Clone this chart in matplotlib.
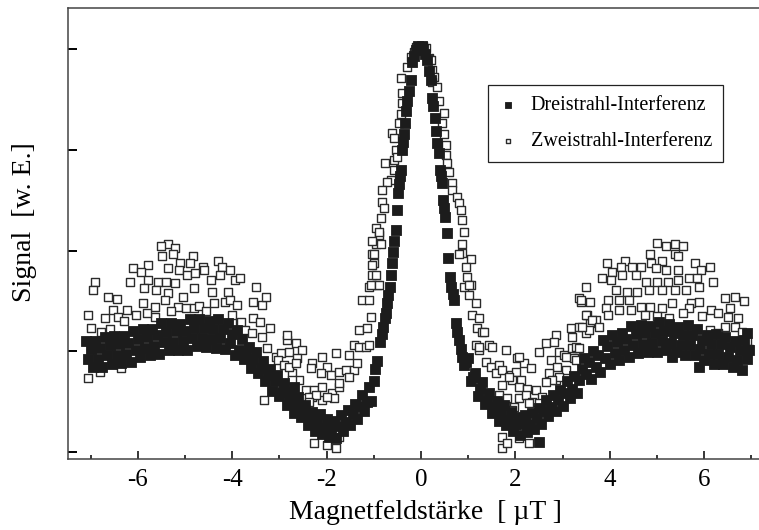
import matplotlib
matplotlib.use("Agg")
import matplotlib.pyplot as plt
from matplotlib.ticker import MultipleLocator, FixedLocator

# ---- data (x in uT, signal in arb. units) ----

# Dreistrahl-Interferenz (filled squares), left side band
drei_left_x = [-7.10, -7.05, -7.00, -6.95, -6.90, -6.85, -6.80, -6.75, -6.70, -6.65,
               -6.60, -6.55, -6.50, -6.45, -6.40, -6.35, -6.30, -6.25, -6.20, -6.15,
               -6.10, -6.05, -6.00, -5.95, -5.90, -5.85, -5.80, -5.75, -5.70, -5.65,
               -5.60, -5.55, -5.50, -5.45, -5.40, -5.35, -5.30, -5.25, -5.20, -5.15,
               -5.10, -5.05, -5.00, -4.95, -4.90, -4.85, -4.80, -4.75, -4.70, -4.65,
               -4.60, -4.55, -4.50, -4.45, -4.40, -4.35, -4.30, -4.25, -4.20, -4.15,
               -4.10, -4.05, -4.00, -3.95, -3.90, -3.85, -3.80, -3.75, -3.70, -3.65,
               -3.60, -3.55, -3.50, -3.45, -3.40, -3.35, -3.30, -3.25, -3.20, -3.15,
               -3.10, -3.05, -3.00, -2.95, -2.90, -2.85, -2.80, -2.75, -2.70, -2.65,
               -2.60, -2.55, -2.50, -2.45, -2.40, -2.35, -2.30, -2.25, -2.20, -2.15,
               -2.10, -2.05, -2.00, -1.95, -1.90, -1.85, -1.80, -1.75, -1.70, -1.65,
               -1.60, -1.55, -1.50, -1.45, -1.40, -1.35, -1.30, -1.25, -1.20, -1.15,
               -1.10, -1.05, -1.00, -0.97, -0.94, -2.69]
drei_left_y = [1.10, 0.92, 1.02, 0.84, 1.10, 0.92, 1.03, 0.84, 1.14, 0.96,
               1.06, 0.87, 1.15, 0.96, 1.07, 0.88, 1.15, 0.97, 1.08, 0.89,
               1.20, 1.01, 1.12, 0.94, 1.22, 1.03, 1.14, 0.96, 1.22, 1.05,
               1.16, 0.97, 1.28, 1.09, 1.19, 1.01, 1.28, 1.09, 1.20, 1.01,
               1.27, 1.10, 1.20, 1.01, 1.32, 1.13, 1.23, 1.05, 1.32, 1.13,
               1.23, 1.04, 1.30, 1.12, 1.22, 1.03, 1.32, 1.13, 1.22, 1.02,
               1.28, 1.08, 1.17, 0.96, 1.21, 1.01, 1.12, 0.92, 0.98, 1.04,
               0.83, 0.92, 0.99, 0.78, 0.83, 0.90, 0.70, 0.76, 0.82, 0.61,
               0.70, 0.76, 0.56, 0.60, 0.68, 0.47, 0.54, 0.60, 0.39, 0.48,
               0.55, 0.35, 0.39, 0.47, 0.27, 0.34, 0.40, 0.21, 0.30, 0.38,
               0.18, 0.24, 0.33, 0.15, 0.23, 0.31, 0.14, 0.26, 0.37, 0.21,
               0.30, 0.42, 0.27, 0.38, 0.48, 0.33, 0.46, 0.57, 0.41, 0.50,
               0.64, 0.51, 0.70, 0.82, 0.90, 0.64]

# Dreistrahl-Interferenz, central peak
drei_peak_x = [-0.87, -0.83, -0.80, -0.76, -0.74, -0.72, -0.69, -0.66, -0.63, -0.61,
               -0.59, -0.57, -0.53, -0.51, -0.49, -0.47, -0.44, -0.42, -0.40, -0.38,
               -0.36, -0.34, -0.32, -0.29, -0.25, -0.21, -0.19, -0.15, -0.11, -0.07,
               -0.03, 0.01, 0.05, 0.09, 0.13, 0.17, 0.21, 0.23, 0.26, 0.30,
               0.32, 0.34, 0.38, 0.40, 0.42, 0.44, 0.47, 0.49, 0.51, 0.55,
               0.57, 0.61, 0.63, 0.67, 0.70, 0.74, 0.77, 0.80, 0.84, 0.87,
               0.91]
drei_peak_y = [1.09, 1.17, 1.24, 1.33, 1.38, 1.48, 1.56, 1.64, 1.76, 1.88,
               1.99, 2.10, 2.20, 2.40, 2.57, 2.66, 2.74, 2.80, 3.00, 3.08,
               3.16, 3.27, 3.39, 3.49, 3.59, 3.69, 3.87, 3.93, 3.99, 4.03,
               4.02, 4.03, 4.00, 3.95, 3.89, 3.78, 3.69, 3.52, 3.44, 3.32,
               3.19, 3.07, 2.97, 2.80, 2.74, 2.67, 2.50, 2.42, 2.33, 2.17,
               1.93, 1.74, 1.64, 1.57, 1.51, 1.28, 1.19, 1.11, 1.02, 0.94,
               0.86]

# Dreistrahl-Interferenz, right side band
drei_right_x = [0.95, 1.00, 1.05, 1.10, 1.15, 1.20, 1.25, 1.30, 1.35, 1.40,
                1.45, 1.50, 1.55, 1.60, 1.65, 1.70, 1.75, 1.80, 1.85, 1.90,
                1.95, 2.00, 2.05, 2.10, 2.15, 2.20, 2.25, 2.30, 2.35, 2.40,
                2.45, 2.50, 2.55, 2.60, 2.65, 2.70, 2.75, 2.80, 2.85, 2.90,
                2.95, 3.00, 3.05, 3.10, 3.15, 3.20, 3.25, 3.30, 3.35, 3.40,
                3.45, 3.50, 3.55, 3.60, 3.65, 3.70, 3.75, 3.80, 3.85, 3.90,
                3.95, 4.00, 4.05, 4.10, 4.15, 4.20, 4.25, 4.30, 4.35, 4.40,
                4.45, 4.50, 4.55, 4.60, 4.65, 4.70, 4.75, 4.80, 4.85, 4.90,
                4.95, 5.00, 5.05, 5.10, 5.15, 5.20, 5.25, 5.30, 5.35, 5.40,
                5.45, 5.50, 5.55, 5.60, 5.65, 5.70, 5.75, 5.80, 5.85, 5.90,
                5.95, 6.00, 6.05, 6.10, 6.15, 6.20, 6.25, 6.30, 6.35, 6.40,
                6.45, 6.50, 6.55, 6.60, 6.65, 6.70, 6.75, 6.80, 6.85, 6.90,
                6.95, 5.88, 5.31, 2.49, 6.90]
drei_right_y = [0.89, 0.93, 0.70, 0.74, 0.78, 0.56, 0.63, 0.69, 0.48, 0.52,
                0.59, 0.39, 0.45, 0.51, 0.31, 0.40, 0.47, 0.27, 0.32, 0.40,
                0.21, 0.28, 0.35, 0.17, 0.28, 0.37, 0.20, 0.28, 0.39, 0.23,
                0.34, 0.44, 0.28, 0.41, 0.52, 0.36, 0.45, 0.57, 0.41, 0.52,
                0.62, 0.46, 0.59, 0.70, 0.54, 0.63, 0.75, 0.59, 0.71, 0.82,
                0.93, 0.77, 0.89, 0.72, 1.00, 0.84, 0.96, 0.79, 1.11, 0.93,
                1.05, 0.87, 1.16, 0.98, 1.09, 0.91, 1.18, 1.01, 1.12, 0.94,
                1.25, 1.06, 1.17, 0.98, 1.26, 1.07, 1.18, 0.99, 1.25, 1.08,
                1.18, 0.99, 1.29, 1.10, 1.20, 1.01, 1.27, 1.08, 1.18, 0.99,
                1.24, 1.06, 1.16, 0.96, 1.26, 1.06, 1.16, 0.96, 1.22, 1.02,
                1.11, 0.91, 1.16, 0.97, 1.07, 0.87, 1.17, 0.97, 1.07, 0.87,
                1.14, 0.94, 1.04, 0.84, 1.10, 0.91, 1.01, 0.81, 1.11, 0.92,
                1.01, 0.84, 0.94, 0.10, 1.18]

# Zweistrahl-Interferenz (open squares)
zwei_x = [
    # left outer hump
    -5.37, -5.52, -5.22, -5.48, -5.26, -4.84, -6.11, -5.79, -5.94, -5.10,
    -4.90, -4.31, -4.21, -4.63, -5.37, -5.12, -6.91, -6.96, -6.17, -5.79,
    -5.58, -5.41, -5.22, -4.95, -4.78, -4.59, -4.46, -4.25, -4.04, -3.95,
    -3.83, -5.86, -5.62, -5.37, -5.05, -4.80, -4.42, -4.10, -6.64, -6.45,
    -5.90, -5.64, -5.43, -5.16, -4.99, -4.80, -4.38, -4.16, -4.04, -3.89,
    -7.06, -6.53, -6.70, -6.43, -6.22, -5.64, -7.00, -6.79, -4.00, -3.83,
    -7.06, -6.81, -6.36, -6.30, -6.05, -5.80, -5.30, -4.70, -4.55, -6.60,
    # left valley
    -3.81, -3.74, -3.57, -3.49, -3.57, -3.38, -3.28, -3.42, -3.59, -3.36,
    -3.21, -3.26, -3.07, -2.85, -2.83, -2.64, -2.52, -2.96, -2.79, -2.62,
    -3.04, -2.90, -2.73, -2.79, -2.64, -2.58, -2.43, -2.26, -2.09, -2.30,
    -2.09, -1.88, -1.73, -1.80, -2.09, -2.30, -2.33, -1.99, -2.11, -1.90,
    -1.73, -1.59, -1.42, -1.35, -1.52, -1.42, -1.31, -1.16, -1.10, -2.73,
    -2.37, -2.22, -1.73, -1.84, -1.99, -2.37, -3.32, -2.26, -1.99, -1.80,
    -1.73, -1.99, -1.52, -1.31, -1.14, -1.25, -1.10, -1.06, -1.10, -0.93,
    -1.04, -0.99, -1.04, -0.95, -0.89,
    # central peak
    -0.30, -0.42, -0.40, -0.40, -0.42, -0.47, -0.61, -0.57, -0.53, -0.57,
    -0.51, -0.76, -0.57, -0.63, -0.72, -0.82, -0.82, -0.78, -0.85, -0.95,
    -0.89, -1.04, -0.85, -0.99, -1.04, -0.95, -1.06, -0.89, -0.11, -0.22,
    -0.15, 0.04, 0.11, 0.17, 0.21, 0.23, 0.27, 0.23, 0.34, 0.38,
    0.49, 0.44, 0.49, 0.53, 0.53, 0.55, 0.59, 0.66, 0.66, 0.76,
    0.80, 0.85, 0.87, 0.91, 0.87, 0.87, 0.80, 1.06, 0.95, 0.97,
    1.06,
    # right valley
    0.91, 1.01, 1.01, 1.16, 1.08, 1.23, 1.18, 1.29, 1.16, 1.23,
    1.44, 1.50, 1.37, 1.48, 1.65, 1.59, 1.80, 1.71, 1.90, 2.01,
    2.03, 2.18, 2.33, 2.11, 1.92, 1.71, 2.07, 2.24, 2.43, 1.65,
    1.82, 2.07, 2.22, 2.35, 2.56, 2.54, 1.97, 1.71, 1.71, 1.82,
    2.07, 2.28, 2.49, 2.64, 2.85, 2.81, 2.75, 2.92, 3.02, 2.88,
    2.71, 2.85, 3.23, 3.19, 3.30, 3.17, 3.34, 3.19, 3.49, 3.59,
    3.51, 3.70, 3.38, 3.34, 3.28, 1.33, 1.23, 1.86, 2.07, 2.28,
    2.49, 1.92, 3.07, 2.92, 2.77, 2.64, 3.07, 3.28,
    # right outer hump
    4.99, 5.20, 5.39, 5.56, 5.39, 4.86, 5.10, 5.45, 4.33, 3.93,
    4.23, 4.46, 4.67, 4.88, 4.97, 5.18, 5.45, 5.81, 5.94, 6.13,
    6.19, 4.04, 3.83, 4.02, 4.25, 4.55, 4.76, 4.99, 5.24, 5.45,
    5.67, 5.84, 5.88, 5.62, 5.39, 5.10, 4.82, 4.57, 4.36, 4.12,
    3.49, 3.38, 3.59, 3.97, 4.19, 4.40, 4.67, 4.86, 5.10, 5.31,
    5.71, 5.88, 5.67, 6.45, 6.66, 6.55, 6.15, 6.30, 6.51, 6.72,
    4.44, 4.19, 3.91, 3.97, 3.49, 3.62, 3.76, 3.55, 3.40, 6.45,
    6.66, 6.79, 6.30, 6.13, 3.34, 6.85, 6.90, 6.95, 4.75, 5.00,
    5.55, 5.95, 5.25]
zwei_y = [
    # left outer hump
    2.07, 2.05, 2.03, 1.95, 1.97, 1.95, 1.83, 1.86, 1.79, 1.88,
    1.88, 1.90, 1.84, 1.84, 1.83, 1.81, 1.69, 1.61, 1.69, 1.71,
    1.69, 1.69, 1.68, 1.76, 1.78, 1.81, 1.71, 1.76, 1.81, 1.71,
    1.73, 1.63, 1.61, 1.58, 1.54, 1.63, 1.59, 1.59, 1.54, 1.52,
    1.48, 1.44, 1.51, 1.44, 1.43, 1.43, 1.48, 1.49, 1.51, 1.46,
    1.36, 1.41, 1.33, 1.34, 1.41, 1.34, 1.23, 1.19, 1.36, 1.28,
    0.73, 0.79, 0.83, 1.30, 1.36, 1.38, 1.40, 1.45, 1.40, 1.22,
    # left valley
    1.29, 1.21, 1.49, 1.64, 1.33, 1.46, 1.54, 1.29, 1.18, 1.14,
    1.23, 1.03, 0.94, 1.11, 1.16, 1.08, 1.01, 0.98, 0.99, 0.93,
    0.91, 0.86, 0.78, 0.84, 0.88, 0.71, 0.62, 0.62, 0.64, 0.55,
    0.52, 0.59, 0.64, 0.98, 0.94, 0.88, 0.83, 0.84, 0.78, 0.76,
    0.79, 0.81, 0.81, 0.88, 0.96, 1.06, 1.04, 1.04, 1.06, 0.71,
    0.55, 0.57, 0.68, 0.54, 0.55, 0.50, 0.52, 0.09, 0.07, 0.04,
    0.15, 0.19, 0.74, 1.21, 1.23, 1.51, 1.51, 1.34, 1.64, 1.66,
    1.76, 1.88, 1.97, 2.07, 2.15,
    # central peak
    3.82, 3.71, 3.57, 3.47, 3.36, 3.27, 3.17, 3.12, 3.00, 2.90,
    2.93, 2.87, 2.80, 2.70, 2.68, 2.60, 2.48, 2.42, 2.32, 2.22,
    2.18, 2.10, 2.07, 1.97, 1.86, 1.76, 1.66, 1.66, 4.02, 3.92,
    3.97, 4.03, 4.01, 3.91, 3.89, 3.79, 3.72, 3.67, 3.62, 3.49,
    3.37, 3.27, 3.16, 3.05, 2.95, 2.87, 2.78, 2.67, 2.60, 2.53,
    2.47, 2.40, 2.30, 2.18, 2.07, 1.98, 1.97, 1.92, 1.84, 1.74,
    1.66,
    # right valley
    1.64, 1.66, 1.56, 1.48, 1.36, 1.33, 1.23, 1.19, 1.06, 1.01,
    1.06, 1.04, 0.89, 0.84, 0.86, 0.78, 1.01, 0.81, 0.76, 0.79,
    0.93, 0.88, 0.83, 0.71, 0.71, 0.66, 0.64, 0.63, 0.62, 0.57,
    0.54, 0.54, 0.57, 0.50, 0.55, 0.47, 0.45, 0.15, 0.04, 0.09,
    0.14, 0.09, 0.99, 1.08, 1.16, 1.09, 0.91, 0.99, 0.96, 0.84,
    0.78, 0.71, 0.93, 1.03, 1.03, 1.23, 1.24, 1.14, 1.18, 1.28,
    1.36, 1.31, 1.49, 1.53, 0.91, 1.19, 1.04, 0.74, 0.94, 0.49,
    0.49, 0.42, 0.81, 0.74, 0.71, 0.69, 0.94, 1.04,
    # right outer hump
    2.08, 2.05, 2.07, 2.05, 1.97, 1.97, 1.90, 1.95, 1.90, 1.88,
    1.84, 1.84, 1.84, 1.88, 1.83, 1.81, 1.81, 1.88, 1.81, 1.84,
    1.69, 1.79, 1.73, 1.71, 1.76, 1.76, 1.69, 1.69, 1.69, 1.71,
    1.73, 1.73, 1.64, 1.61, 1.61, 1.61, 1.61, 1.59, 1.59, 1.61,
    1.64, 1.51, 1.49, 1.51, 1.51, 1.51, 1.44, 1.44, 1.43, 1.48,
    1.48, 1.49, 1.43, 1.53, 1.54, 1.43, 1.41, 1.38, 1.34, 1.33,
    1.41, 1.41, 1.43, 1.36, 1.36, 1.31, 1.24, 1.21, 1.24, 1.24,
    1.24, 1.19, 1.18, 1.21, 1.03, 1.50, 1.10, 1.02, 1.36, 1.35,
    1.38, 1.35, 1.33]

x_ticks = [-6, -4, -2, 0, 2, 4, 6]
x_tick_labels = ["-6", "-4", "-2", "0", "2", "4", "6"]
y_ticks = [0, 1, 2, 3, 4]


def main():
    plt.rcParams['font.family'] = ['Liberation Serif', 'DejaVu Serif']
    plt.rcParams['axes.unicode_minus'] = False

    fig = plt.figure(figsize=(7.59, 5.30), dpi=100)
    ax = fig.add_axes([0.0896, 0.134, 0.9104, 0.851])

    # open squares first, filled squares drawn over them
    zwei = ax.scatter(zwei_x, zwei_y, s=40, marker='s', facecolors='white',
                      edgecolors='#2b2b2b', linewidths=1.0, zorder=2)
    drei = ax.scatter(drei_left_x + drei_peak_x + drei_right_x,
                      drei_left_y + drei_peak_y + drei_right_y,
                      s=46, marker='s', facecolors='#1c1c1c',
                      edgecolors='#1c1c1c', linewidths=0.6, zorder=3)

    ax.set_xlim(-7.48, 7.16)
    ax.set_ylim(-0.07, 4.41)

    ax.xaxis.set_major_locator(FixedLocator(x_ticks))
    ax.set_xticklabels(x_tick_labels)
    ax.xaxis.set_minor_locator(MultipleLocator(1))
    ax.yaxis.set_major_locator(FixedLocator(y_ticks))
    ax.set_yticklabels([])

    ax.tick_params(axis='x', which='major', direction='in', length=6,
                   width=1.1, labelsize=18, pad=7, top=False)
    ax.tick_params(axis='x', which='minor', direction='in', length=3,
                   width=1.1, top=False)
    ax.tick_params(axis='y', which='major', direction='in', length=6.5,
                   width=1.4, right=False)

    for side in ['left', 'top', 'bottom']:
        ax.spines[side].set_color('#444444')
        ax.spines[side].set_linewidth(1.1)
    ax.spines['right'].set_visible(False)

    ax.set_xlabel("Magnetfeldstärke  [ µT ]", fontsize=20)
    ax.xaxis.set_label_coords(0.517, -0.09)
    ax.set_ylabel("Signal  [w. E.]", fontsize=20)
    ax.yaxis.set_label_coords(-0.045, 0.525)

    leg = ax.legend([drei, zwei], ["Dreistrahl-Interferenz", "Zweistrahl-Interferenz"],
                    loc='upper right', bbox_to_anchor=(0.948, 0.829),
                    fontsize=14.5, frameon=True, fancybox=False, framealpha=1,
                    markerscale=0.55, handlelength=0.9, handletextpad=0.65,
                    labelspacing=0.84, borderpad=0.55, borderaxespad=0)
    leg.get_frame().set_edgecolor('#222222')
    leg.get_frame().set_linewidth(0.9)

    fig.savefig("out.png", dpi=100)


main()
